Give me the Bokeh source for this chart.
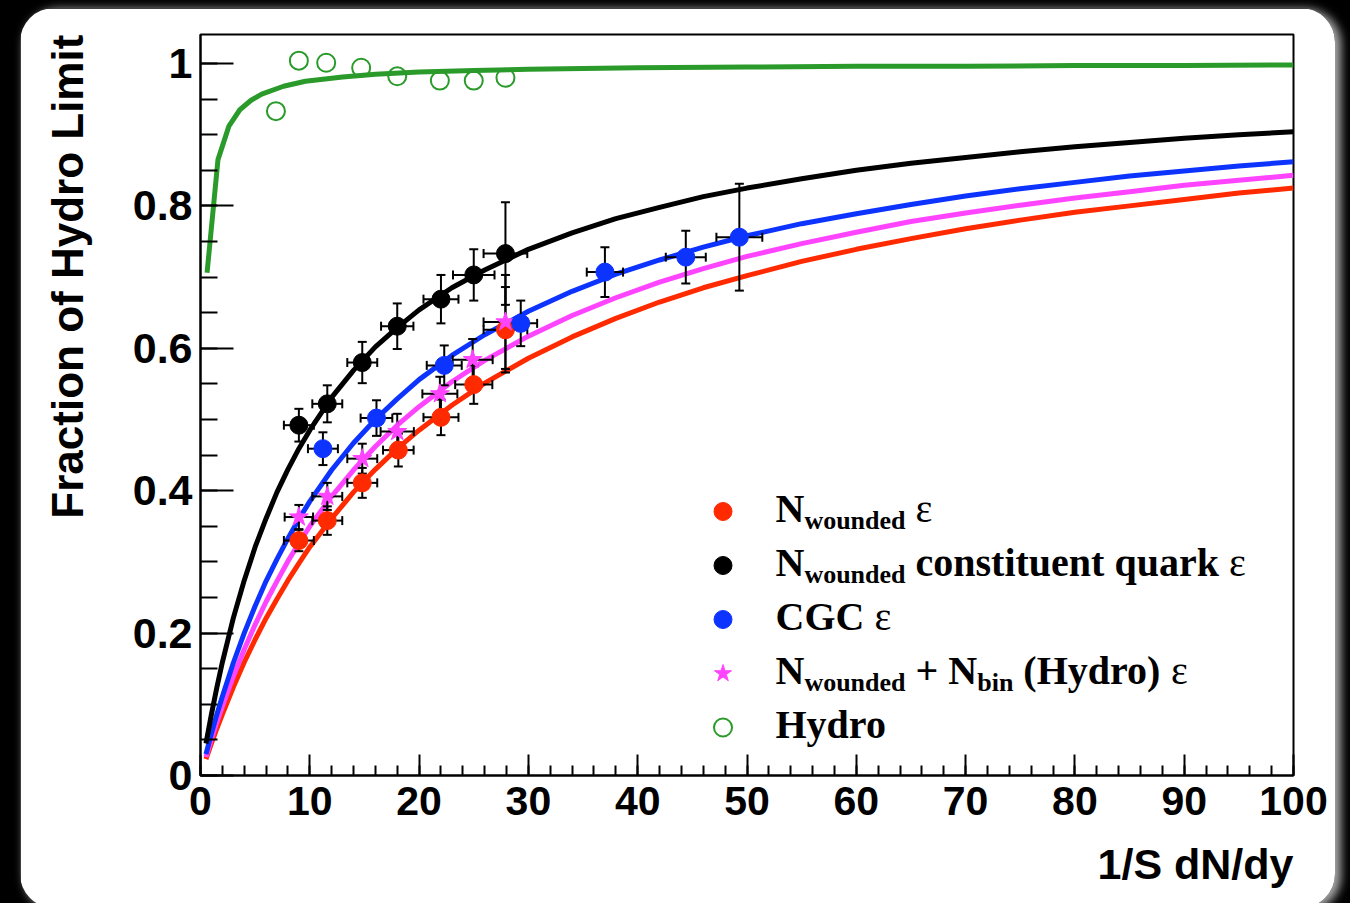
import math
from bokeh.plotting import figure
from bokeh.models import (ColumnDataSource, Whisker, TeeHead, Label, SingleIntervalTicker,
                          CustomJSTickFormatter, Legend, LegendItem, Range1d, Title)
from bokeh.layouts import column
from bokeh.embed import file_html
from bokeh.resources import INLINE

# ---------------- data ----------------
curve_x = [0.5, 1, 1.5, 2, 3, 4, 5, 6, 7, 8, 9, 10, 12, 14, 16, 18, 20, 23, 26, 30, 34, 38,
           42, 46, 50, 55, 60, 65, 70, 75, 80, 85, 90, 95, 100]
curve_red = [0.023, 0.045, 0.066, 0.086, 0.124, 0.159, 0.191, 0.221, 0.248, 0.274, 0.298, 0.321,
             0.361, 0.398, 0.430, 0.459, 0.485, 0.520, 0.551, 0.586, 0.616, 0.642, 0.665, 0.685,
             0.702, 0.722, 0.739, 0.754, 0.768, 0.780, 0.791, 0.800, 0.809, 0.818, 0.825]
curve_black = [0.045, 0.086, 0.124, 0.159, 0.221, 0.274, 0.321, 0.361, 0.398, 0.430, 0.459, 0.485,
               0.531, 0.569, 0.602, 0.629, 0.654, 0.685, 0.710, 0.739, 0.762, 0.782, 0.798, 0.813,
               0.825, 0.838, 0.850, 0.860, 0.868, 0.876, 0.883, 0.889, 0.895, 0.900, 0.904]
curve_blue = [0.030, 0.059, 0.086, 0.111, 0.158, 0.200, 0.238, 0.273, 0.304, 0.333, 0.360, 0.385,
              0.429, 0.467, 0.500, 0.529, 0.556, 0.590, 0.619, 0.652, 0.680, 0.704, 0.724, 0.742,
              0.758, 0.775, 0.789, 0.802, 0.814, 0.824, 0.833, 0.842, 0.849, 0.856, 0.862]
curve_pink = [0.026, 0.051, 0.075, 0.097, 0.139, 0.177, 0.212, 0.244, 0.273, 0.301, 0.326, 0.350,
              0.392, 0.429, 0.462, 0.492, 0.518, 0.553, 0.583, 0.617, 0.646, 0.671, 0.693, 0.712,
              0.729, 0.747, 0.763, 0.778, 0.790, 0.801, 0.811, 0.820, 0.829, 0.836, 0.843]
green_x = [0.6, 1.6, 2.6, 3.6, 4.6, 5.6, 7.6, 9.6, 13, 16, 20, 25, 30, 40, 50, 60, 70, 80, 90, 100]
green_y = [0.706, 0.865, 0.912, 0.935, 0.948, 0.957, 0.968, 0.975, 0.981, 0.985, 0.988, 0.990,
           0.992, 0.994, 0.995, 0.996, 0.996, 0.997, 0.997, 0.998]

red_x = [9.0, 11.6, 14.8, 18.1, 22.0, 25.0, 27.9]
red_y = [0.330, 0.358, 0.411, 0.457, 0.503, 0.549, 0.626]
red_yerr = [0.015, 0.020, 0.021, 0.023, 0.025, 0.027, 0.060]
red_xerr = [1.37, 1.37, 1.37, 1.40, 1.60, 1.70, 2.00]

black_x = [9.0, 11.6, 14.8, 18.0, 22.0, 25.0, 27.9]
black_y = [0.492, 0.522, 0.580, 0.631, 0.669, 0.703, 0.733]
black_yerr = [0.023, 0.026, 0.029, 0.032, 0.034, 0.036, 0.072]
black_xerr = [1.37, 1.37, 1.37, 1.48, 1.60, 1.90, 2.00]

pink_x = [9.0, 11.6, 14.8, 18.0, 21.9, 24.9, 27.9]
pink_y = [0.363, 0.392, 0.445, 0.483, 0.536, 0.584, 0.637]
pink_yerr = [0.017, 0.019, 0.021, 0.025, 0.024, 0.029, 0.066]
pink_xerr = [1.30, 1.37, 1.37, 1.52, 1.60, 1.83, 2.00]

blue_x = [11.2, 16.1, 22.3, 29.3, 37.0, 44.4, 49.3]
blue_y = [0.459, 0.502, 0.576, 0.635, 0.707, 0.728, 0.756]
blue_yerr = [0.023, 0.025, 0.028, 0.032, 0.035, 0.037, 0.075]
blue_xerr = [1.37, 1.45, 1.60, 1.50, 1.66, 1.83, 2.10]

hydro_x = [6.9, 9.0, 11.5, 14.7, 18.0, 21.9, 25.0, 27.9]
hydro_y = [0.933, 1.004, 1.001, 0.994, 0.982, 0.976, 0.976, 0.980]

RED, BLACK, BLUE, PINK, GREEN = "#ff2a00", "#000000", "#0d33ff", "#ff44ff", "#2a9a2a"

# ---------------- figure ----------------
X_MAX, Y_MAX = 100, 1.0407
FIG_W, FIG_H = 1315, 900
PAGE_X0, PAGE_Y0 = 20, 8
FR_L, FR_R, FR_T, FR_B = 200, 1293, 34, 775   # frame edges on the page

p = figure(width=FIG_W, height=FIG_H, output_backend="svg", toolbar_location=None,
           x_range=Range1d(0, X_MAX), y_range=Range1d(0, Y_MAX),
           min_border_left=FR_L - PAGE_X0, min_border_right=PAGE_X0 + FIG_W - FR_R,
           min_border_top=FR_T - PAGE_Y0, min_border_bottom=PAGE_Y0 + FIG_H - FR_B,
           background_fill_color="white", border_fill_color="white")
p.title.visible = False
p.grid.visible = False
p.outline_line_color = "black"
p.outline_line_width = 2

XS = (FR_R - FR_L) / X_MAX
YS = (FR_B - FR_T) / Y_MAX


def dx(px):
    return (px - FR_L) / XS


def dy(py):
    return (FR_B - py) / YS


for ax in (p.xaxis[0], p.yaxis[0]):
    ax.axis_line_width = 2
    ax.major_tick_line_width = 2
    ax.minor_tick_line_width = 2
    ax.major_tick_out = 0
    ax.minor_tick_out = 0
    ax.major_label_text_font = "Liberation Sans"
    ax.major_label_text_font_style = "bold"
    ax.major_label_text_color = "black"

p.xaxis.ticker = SingleIntervalTicker(interval=10, num_minor_ticks=5)
p.xaxis.major_tick_in = 21
p.xaxis.minor_tick_in = 10
p.xaxis.major_label_standoff = 11
p.xaxis.major_label_text_font_size = "41px"

p.yaxis.ticker = SingleIntervalTicker(interval=0.2, num_minor_ticks=4)
p.yaxis.major_tick_in = 33
p.yaxis.minor_tick_in = 17
p.yaxis.major_label_standoff = 8
p.yaxis.major_label_text_font_size = "43px"
p.yaxis.formatter = CustomJSTickFormatter(code="return String(Math.round(tick*10)/10)")

# ---------------- axis titles ----------------
# y title: the axis label is centred on the frame; non-breaking spaces in front push the
# visible words up so that they end at the top of the frame, as in the original.
p.yaxis.axis_label = "\u00a0" * 21 + "Fraction of Hydro Limit"
p.yaxis.axis_label_standoff = 38
p.yaxis.axis_label_text_font = "Liberation Sans"
p.yaxis.axis_label_text_font_style = "bold"
p.yaxis.axis_label_text_font_size = "44px"
p.yaxis.axis_label_text_color = "black"

p.add_layout(Title(text="1/S dN/dy", align="right", text_font="Liberation Sans",
                   text_font_style="bold", text_font_size="43px", text_color="black",
                   standoff=40), "below")

# ---------------- curves ----------------
for ys, col in ((curve_red, RED), (curve_pink, PINK), (curve_blue, BLUE), (curve_black, BLACK)):
    p.line(curve_x, ys, line_color=col, line_width=5, level="image")
p.line(green_x, green_y, line_color=GREEN, line_width=5, level="image")


# ---------------- error bars + markers ----------------
def errors(xs, ys, xe, ye):
    src = ColumnDataSource(dict(
        x=xs, y=ys,
        xl=[a - b for a, b in zip(xs, xe)], xu=[a + b for a, b in zip(xs, xe)],
        yl=[a - b for a, b in zip(ys, ye)], yu=[a + b for a, b in zip(ys, ye)]))
    for base, lo, hi, dim in (("x", "yl", "yu", "height"), ("y", "xl", "xu", "width")):
        w = Whisker(source=src, base=base, lower=lo, upper=hi, dimension=dim,
                    line_color="black", line_width=2, level="underlay",
                    upper_head=TeeHead(size=9, line_width=2, line_color="black"),
                    lower_head=TeeHead(size=9, line_width=2, line_color="black"))
        p.add_layout(w)
    return src


s_red = errors(red_x, red_y, red_xerr, red_yerr)
s_pink = errors(pink_x, pink_y, pink_xerr, pink_yerr)
s_black = errors(black_x, black_y, black_xerr, black_yerr)
s_blue = errors(blue_x, blue_y, blue_xerr, blue_yerr)

r_red = p.scatter("x", "y", source=s_red, marker="circle", size=18, fill_color=RED, line_color=RED)
r_pink = p.scatter("x", "y", source=s_pink, marker="star", size=20, fill_color=PINK, line_color=PINK)
r_black = p.scatter("x", "y", source=s_black, marker="circle", size=18, fill_color=BLACK, line_color=BLACK)
r_blue = p.scatter("x", "y", source=s_blue, marker="circle", size=18, fill_color=BLUE, line_color=BLUE)
r_hydro = p.scatter(hydro_x, hydro_y, marker="circle", size=18, fill_color=None,
                    line_color=GREEN, line_width=2)

# ---------------- legend keys ----------------
ROW_H = 54
LEG_X, LEG_TOP = 722, 484     # key centre x, top of first row (page px)
legend = Legend(items=[LegendItem(label=" ", renderers=[r]) for r in
                       (r_red, r_black, r_blue, r_pink, r_hydro)],
                location=(LEG_X - 22.5 - FR_L, FR_B - (LEG_TOP + 5 * ROW_H)),
                orientation="vertical", padding=0, spacing=0, margin=0,
                glyph_width=45, glyph_height=ROW_H, label_height=ROW_H,
                label_standoff=0, label_text_font_size="1px",
                border_line_color=None, background_fill_alpha=0)
p.add_layout(legend)

# ---------------- legend texts ----------------
TB = {' ': .25, 'N': .722, 'w': .722, 'o': .5, 'u': .556, 'n': .556, 'd': .556, 'e': .444,
      'c': .444, 's': .389, 't': .333, 'i': .278, 'q': .556, 'a': .5, 'r': .444, 'k': .556,
      'C': .722, 'G': .778, '+': .57, '(': .333, ')': .333, 'H': .778, 'y': .5, 'b': .556,
      'ε': .44}
BIG, SUB = 40, 26
rows = [
    [("N", BIG, "bold", 0), ("wounded", SUB, "bold", 12), (" ", BIG, "bold", 0), ("ε", BIG, "normal", 0)],
    [("N", BIG, "bold", 0), ("wounded", SUB, "bold", 12), (" constituent quark ", BIG, "bold", 0),
     ("ε", BIG, "normal", 0)],
    [("CGC ", BIG, "bold", 0), ("ε", BIG, "normal", 0)],
    [("N", BIG, "bold", 0), ("wounded", SUB, "bold", 12), (" + N", BIG, "bold", 0),
     ("bin", SUB, "bold", 12), (" (Hydro) ", BIG, "bold", 0), ("ε", BIG, "normal", 0)],
    [("Hydro", BIG, "bold", 0)],
]
TEXT_X0 = 775
for i, pieces in enumerate(rows):
    base = LEG_TOP + ROW_H * i + ROW_H / 2 - 3
    xcur = TEXT_X0
    for txt, size, weight, off in pieces:
        lead = len(txt) - len(txt.lstrip(" "))
        core = txt.strip(" ")
        if core:
            p.add_layout(Label(x=dx(xcur + lead * TB[' '] * size), y=dy(base + off), text=core,
                               text_font="Liberation Serif", text_font_style=weight,
                               text_font_size=f"{size}px", text_color="black",
                               text_align="left", text_baseline="alphabetic"))
        xcur += sum(TB.get(ch, .5) for ch in txt) * size

p.margin = (PAGE_Y0, 0, 0, PAGE_X0)
p.styles = {"border-radius": "34px", "overflow": "hidden",
            "box-shadow": "5px 2px 10px 1px rgba(190,190,190,0.9)"}

page = column(p, width=1350, height=903, styles={"background-color": "black"})

open("out.html", "w").write(file_html(page, INLINE))
